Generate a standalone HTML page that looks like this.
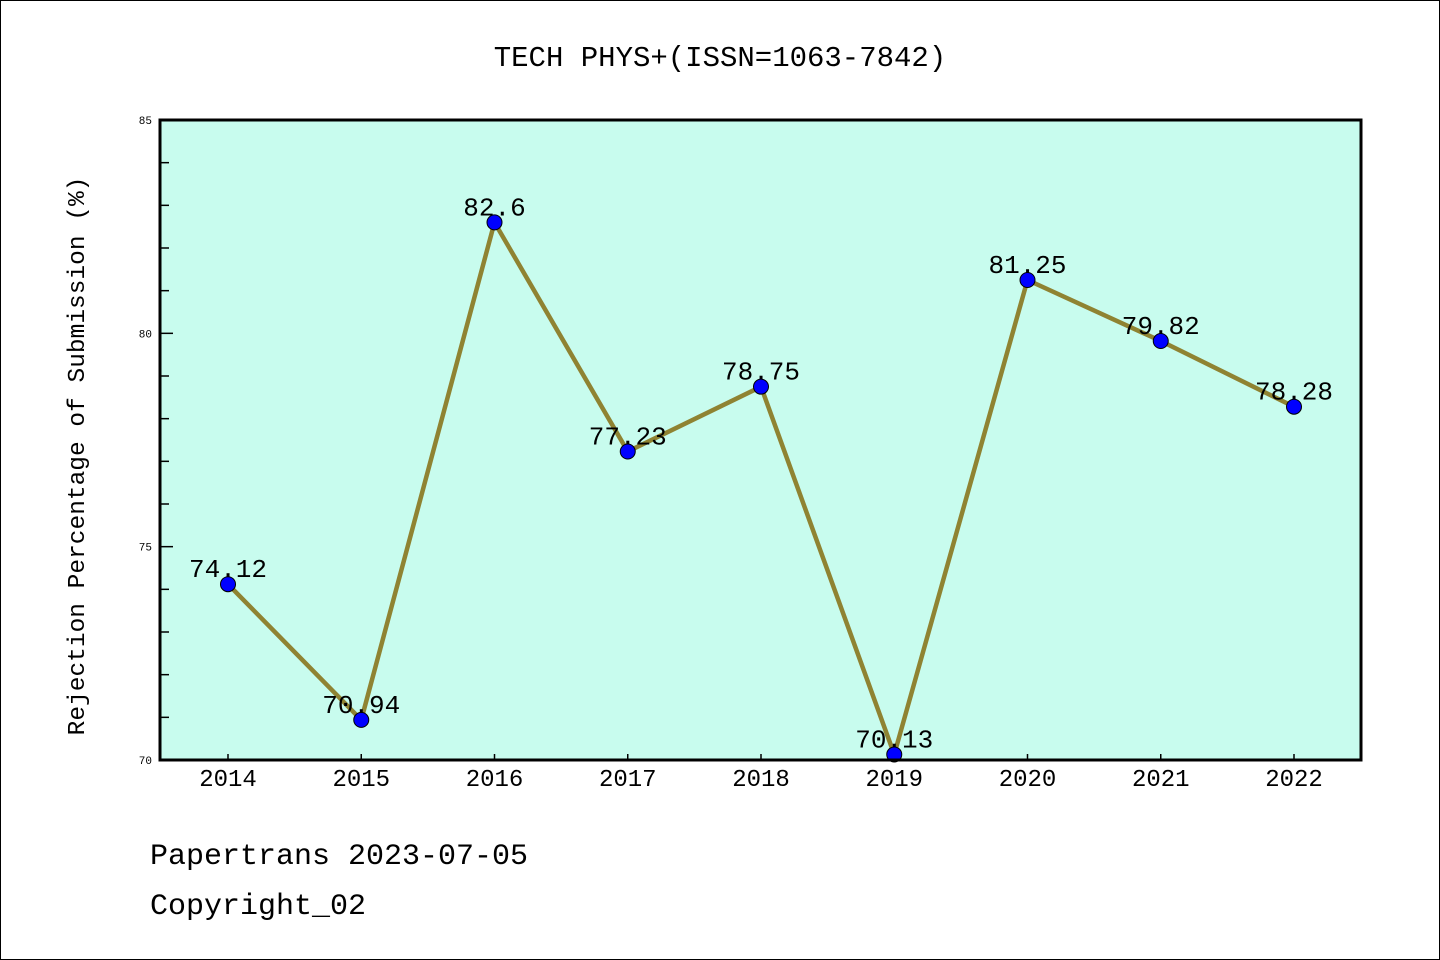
<!DOCTYPE html>
<html><head><meta charset="utf-8"><style>
html,body{margin:0;padding:0;background:#fff}
svg{display:block}
text{font-family:"Liberation Mono",monospace;fill:#000}
</style></head><body>
<svg id="chart" width="1440" height="960" xmlns="http://www.w3.org/2000/svg">
<rect x="0.5" y="0.5" width="1439" height="959" fill="#fff" stroke="#000" stroke-width="1"/>
<text x="720" y="66" font-size="29" text-anchor="middle">TECH PHYS+(ISSN=1063-7842)</text>
<rect x="160" y="120" width="1201" height="640" fill="#c8fcee"/>
<g id="axes"></g>
<g id="series"></g>
<rect x="160" y="120" width="1201" height="640" fill="none" stroke="#000" stroke-width="3"/>
<text transform="translate(84,456) rotate(-90)" font-size="24.5" text-anchor="middle">Rejection Percentage of Submission (%)</text>
<text x="150" y="864" font-size="30">Papertrans 2023-07-05</text>
<text x="150" y="914" font-size="30">Copyright_02</text>
</svg>
<script>
const years=["2014","2015","2016","2017","2018","2019","2020","2021","2022"];
const values=[74.12,70.94,82.6,77.23,78.75,70.13,81.25,79.82,78.28];
const valueLabels=["74.12","70.94","82.6","77.23","78.75","70.13","81.25","79.82","78.28"];
const yTicks=[70,75,80,85];
const NS="http://www.w3.org/2000/svg";
const X0=228,X1=1294,Y_MIN=70,Y_MAX=85,PLOT_TOP=120,PLOT_BOT=760;
const xs=i=>X0+(X1-X0)*i/(years.length-1);
const ys=v=>PLOT_BOT-(v-Y_MIN)/(Y_MAX-Y_MIN)*(PLOT_BOT-PLOT_TOP);
function mk(tag,attrs,parent){const e=document.createElementNS(NS,tag);for(const k in attrs)e.setAttribute(k,attrs[k]);parent.appendChild(e);return e;}
const ax=document.getElementById('axes'),se=document.getElementById('series');
for(let v=Y_MIN;v<=Y_MAX;v++){
  const major=yTicks.includes(v);
  const t=mk('line',{x1:160,x2:160+(major?13:9),y1:ys(v),y2:ys(v),stroke:'#000','stroke-width':1.5},ax);
  
  
}
yTicks.forEach(v=>{
  const t=mk('text',{x:152,y:ys(v)+4,'font-size':11,'text-anchor':'end'},ax);
  t.textContent=String(v);
  
  
});
years.forEach((y,i)=>{
  const t=mk('line',{x1:xs(i),x2:xs(i),y1:PLOT_BOT,y2:PLOT_BOT-6,stroke:'#000','stroke-width':1.5},ax);
  
  
  const l=mk('text',{x:xs(i),y:PLOT_BOT+26,'font-size':24,'text-anchor':'middle'},ax);
  l.textContent=y;
  
  
});
const pts=values.map((v,i)=>xs(i)+','+ys(v)).join(' ');
const pl=mk('polyline',{points:pts,fill:'none',stroke:'#8f8332','stroke-width':4.5,'stroke-linejoin':'round'},se);


values.forEach((v,i)=>{
  const c=mk('circle',{cx:xs(i),cy:ys(v),r:7.5,fill:'#0000ff',stroke:'#000','stroke-width':1},se);
  
  
});
values.forEach((v,i)=>{
  const t=mk('text',{x:xs(i),y:ys(v)-7,'font-size':26,'text-anchor':'middle'},se);
  t.textContent=valueLabels[i];
  
  
});
</script>
</body></html>
